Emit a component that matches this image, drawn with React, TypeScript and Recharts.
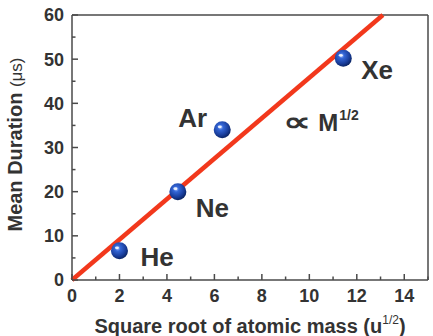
import React from "react";
import {
  ScatterChart,
  Scatter,
  XAxis,
  YAxis,
  ReferenceDot,
} from "recharts";

const elements = ["He", "Ne", "Ar", "Xe"];
const sqrtMass = [2.0, 4.46, 6.33, 11.43];
const duration = [6.6, 20.0, 34.0, 50.2];

const fitX = [0, 13.1];
const fitY = [0, 60];

const xTicks = [0, 1, 2, 3, 4, 5, 6, 7, 8, 9, 10, 11, 12, 13, 14, 15];
const yTicks = [0, 5, 10, 15, 20, 25, 30, 35, 40, 45, 50, 55, 60];

const points = elements.map((name, i) => ({ name, x: sqrtMass[i], y: duration[i] }));
const fitLine = fitX.map((x, i) => ({ x, y: fitY[i] }));

const FONT = "'Liberation Sans', Arial, Helvetica, sans-serif";
const INK = "#333";
const AXIS = "#4a4a4a";

// label placement relative to each marker (px)
const labelOffset: Record<string, { dx: number; dy: number; anchor: "start" | "end" }> = {
  He: { dx: 21, dy: 15, anchor: "start" },
  Ne: { dx: 18, dy: 25, anchor: "start" },
  Ar: { dx: -15, dy: -3, anchor: "end" },
  Xe: { dx: 18, dy: 21, anchor: "start" },
};

const Sphere = (props: any) => {
  const { cx, cy, payload } = props;
  const id = "sph-" + payload.name;
  const off = labelOffset[payload.name];
  return (
    <g>
      <defs>
        <radialGradient id={id} cx="40%" cy="35%" r="65%">
          <stop offset="0%" stopColor="#a9c2ff" />
          <stop offset="25%" stopColor="#3466d6" />
          <stop offset="70%" stopColor="#1a3f9e" />
          <stop offset="100%" stopColor="#0b2566" />
        </radialGradient>
      </defs>
      <circle cx={cx} cy={cy} r={8.5} fill={`url(#${id})`} />
      <ellipse cx={cx - 2.5} cy={cy - 3} rx={2} ry={1.4} fill="#fff" opacity={0.85} />
      <text
        x={cx + off.dx}
        y={cy + off.dy}
        textAnchor={off.anchor}
        fontFamily={FONT}
        fontWeight="bold"
        fontSize={26}
        fill={INK}
      >
        {payload.name}
      </text>
    </g>
  );
};

const BottomTick = (props: any) => {
  const { x, y, payload } = props;
  const major = payload.value % 2 === 0;
  return (
    <g>
      <line x1={x} y1={y} x2={x} y2={y - (major ? 6 : 3.5)} stroke={AXIS} strokeWidth={1.5} />
      {major && payload.value <= 14 && (
        <text x={x} y={y + 22} textAnchor="middle" fontFamily={FONT} fontWeight="bold" fontSize={18} fill={INK}>
          {payload.value}
        </text>
      )}
    </g>
  );
};

const TopTick = (props: any) => {
  const { x, y, payload } = props;
  const major = payload.value % 2 === 0;
  return <line x1={x} y1={y} x2={x} y2={y + (major ? 6 : 3.5)} stroke={AXIS} strokeWidth={1.5} />;
};

const LeftTick = (props: any) => {
  const { x, y, payload } = props;
  const major = payload.value % 10 === 0;
  return (
    <g>
      <line x1={x} y1={y} x2={x + (major ? 6 : 3.5)} y2={y} stroke={AXIS} strokeWidth={1.5} />
      {major && (
        <text x={x - 8} y={y} dy="0.36em" textAnchor="end" fontFamily={FONT} fontWeight="bold" fontSize={18} fill={INK}>
          {payload.value}
        </text>
      )}
    </g>
  );
};

const RightTick = (props: any) => {
  const { x, y, payload } = props;
  const major = payload.value % 10 === 0;
  return <line x1={x} y1={y} x2={x - (major ? 6 : 3.5)} y2={y} stroke={AXIS} strokeWidth={1.5} />;
};

const XTitle = (props: any) => {
  const { viewBox } = props;
  const cx = viewBox.x + viewBox.width / 2;
  return (
    <text x={cx} y={viewBox.y + 53} textAnchor="middle" fontFamily={FONT} fill={INK}>
      <tspan fontWeight="bold" fontSize={20}>Square root of atomic mass (u</tspan>
      <tspan fontSize={12} dy={-9}>1/2</tspan>
      <tspan fontWeight="bold" fontSize={20} dy={9}>)</tspan>
    </text>
  );
};

const YTitle = (props: any) => {
  const { viewBox } = props;
  const cy = viewBox.y + viewBox.height / 2 - 3;
  const cx = 22;
  return (
    <text x={cx} y={cy} textAnchor="middle" fontFamily={FONT} fill={INK} transform={`rotate(-90 ${cx} ${cy})`}>
      <tspan fontWeight="bold" fontSize={20}>Mean Duration </tspan>
      <tspan fontSize={17}>(μs)</tspan>
    </text>
  );
};

const ProportionalNote = (props: any) => {
  const { cx, cy } = props;
  return (
    <g fontFamily={FONT} fill={INK}>
      <text
        transform={`translate(${cx} ${cy}) scale(1.45 1)`}
        fontSize={27}
        fontWeight="bold"
      >
        ∝
      </text>
      <text x={cx + 35} y={cy} fontSize={24} fontWeight="bold">
        M
      </text>
      <text x={cx + 56} y={cy - 11} fontSize={14} fontWeight="bold">
        1/2
      </text>
    </g>
  );
};

export default function App() {
  return (
    <div style={{ position: "absolute", left: 0, top: 0, background: "#fff" }}>
      <ScatterChart width={433} height={336} margin={{ top: 0, right: 0, bottom: 0, left: 0 }}>
        <XAxis
          xAxisId="bottom"
          type="number"
          dataKey="x"
          domain={[0, 15]}
          ticks={xTicks}
          interval={0}
          height={56}
          tickSize={0}
          tickMargin={0}
          tick={<BottomTick />}
          axisLine={{ stroke: AXIS, strokeWidth: 1.5 }}
          label={<XTitle />}
        />
        <XAxis
          xAxisId="top"
          orientation="top"
          type="number"
          dataKey="x"
          domain={[0, 15]}
          ticks={xTicks}
          interval={0}
          height={15}
          tickSize={0}
          tickMargin={0}
          tick={<TopTick />}
          axisLine={{ stroke: AXIS, strokeWidth: 1.5 }}
        />
        <YAxis
          yAxisId="left"
          type="number"
          dataKey="y"
          domain={[0, 60]}
          ticks={yTicks}
          interval={0}
          width={72}
          tickSize={0}
          tickMargin={0}
          tick={<LeftTick />}
          axisLine={{ stroke: AXIS, strokeWidth: 1.5 }}
          label={<YTitle />}
        />
        <YAxis
          yAxisId="right"
          orientation="right"
          type="number"
          dataKey="y"
          domain={[0, 60]}
          ticks={yTicks}
          interval={0}
          width={5}
          tickSize={0}
          tickMargin={0}
          tick={<RightTick />}
          axisLine={{ stroke: AXIS, strokeWidth: 1.5 }}
        />
        <Scatter
          xAxisId="bottom"
          yAxisId="left"
          data={fitLine}
          line={{ stroke: "#f2381c", strokeWidth: 4.5 }}
          shape={() => null}
          isAnimationActive={false}
        />
        <Scatter
          xAxisId="bottom"
          yAxisId="left"
          data={points}
          shape={<Sphere />}
          isAnimationActive={false}
        />
        <ReferenceDot
          xAxisId="bottom"
          yAxisId="left"
          x={8.9}
          y={33.7}
          r={0}
          shape={<ProportionalNote />}
        />
      </ScatterChart>
    </div>
  );
}
